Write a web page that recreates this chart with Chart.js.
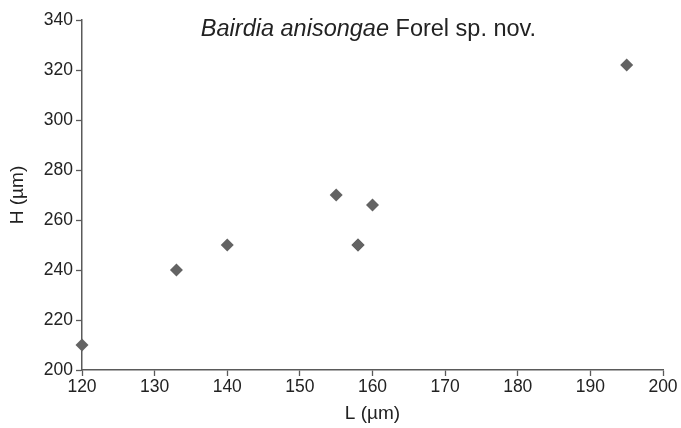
<!DOCTYPE html>
<html>
<head>
<meta charset="utf-8">
<script src="https://cdn.jsdelivr.net/npm/chart.js@4/dist/chart.umd.min.js"></script>
<style>
  html, body { margin: 0; padding: 0; background: #ffffff; }
  #wrap { width: 681px; height: 428px; position: relative; }
</style>
</head>
<body>
<div id="wrap"><canvas id="c"></canvas></div>
<script>
const lengthsL = [120, 133, 140, 155, 158, 158, 160, 195];
const heightsH = [210, 240, 250, 270, 250, 250, 266, 322];
const xTicks = [120, 130, 140, 150, 160, 170, 180, 190, 200];
const yTicks = [200, 220, 240, 260, 280, 300, 320, 340];
const titleItalic = 'Bairdia anisongae';
const titleNormal = ' Forel sp. nov.';
const xTitle = 'L (µm)';
const yTitle = 'H (µm)';

const points = lengthsL.map((x, i) => ({ x: x, y: heightsH[i] }));

const FONT = "'Liberation Sans', Arial, sans-serif";
const TEXT = '#222222';
const AXIS = '#5a5a5a';
const MARK = '#636363';

const titlePlugin = {
  id: 'mixedTitle',
  afterDraw(chart) {
    const ctx = chart.ctx;
    const area = chart.chartArea;
    ctx.save();
    ctx.fillStyle = TEXT;
    ctx.textBaseline = 'alphabetic';
    ctx.textAlign = 'left';
    const fItal = "italic 23.5px " + FONT;
    const fNorm = "23.5px " + FONT;
    ctx.font = fItal;
    const w1 = ctx.measureText(titleItalic).width;
    ctx.font = fNorm;
    const w2 = ctx.measureText(titleNormal).width;
    const cx = (area.left + area.right) / 2 - 4;
    const x0 = cx - (w1 + w2) / 2;
    const y = area.top + 16;
    ctx.font = fItal;
    ctx.fillText(titleItalic, x0, y);
    ctx.font = fNorm;
    ctx.fillText(titleNormal, x0 + w1, y);
    ctx.restore();
  }
};

new Chart(document.getElementById('c'), {
  type: 'scatter',
  data: {
    datasets: [{
      data: points,
      pointStyle: 'rectRot',
      pointRadius: 6.5,
      pointHoverRadius: 6.5,
      backgroundColor: MARK,
      borderColor: MARK,
      borderWidth: 0,
      clip: false
    }]
  },
  options: {
    responsive: true,
    maintainAspectRatio: false,
    animation: false,
    events: [],
    layout: { padding: { top: 20, right: 18, left: 0, bottom: 0 } },
    plugins: {
      legend: { display: false },
      tooltip: { enabled: false },
      title: { display: false }
    },
    scales: {
      x: {
        type: 'linear',
        min: xTicks[0],
        max: xTicks[xTicks.length - 1],
        afterFit(scale) { scale.height = 58; },
        afterBuildTicks(scale) { scale.ticks = xTicks.map(v => ({ value: v })); },
        grid: { display: true, drawOnChartArea: false, drawTicks: true, tickLength: 6, tickColor: AXIS, tickWidth: 1.3 },
        border: { display: true, color: AXIS, width: 1.5 },
        ticks: { color: TEXT, font: { family: FONT, size: 17.5 }, padding: 1, maxRotation: 0, autoSkip: false },
        title: { display: true, text: xTitle, color: TEXT, font: { family: FONT, size: 19 }, padding: { top: 0, bottom: 3 } }
      },
      y: {
        type: 'linear',
        min: yTicks[0],
        max: yTicks[yTicks.length - 1],
        afterFit(scale) { scale.width = 82; },
        afterBuildTicks(scale) { scale.ticks = yTicks.map(v => ({ value: v })); },
        grid: { display: true, drawOnChartArea: false, drawTicks: true, tickLength: 6, tickColor: AXIS, tickWidth: 1.3 },
        border: { display: true, color: AXIS, width: 1.5 },
        ticks: { color: TEXT, font: { family: FONT, size: 17.5 }, padding: 3, autoSkip: false },
        title: { display: true, text: yTitle, color: TEXT, font: { family: FONT, size: 19 }, padding: { top: 6, bottom: 0 } }
      }
    }
  },
  plugins: [titlePlugin]
});
</script>
</body>
</html>
